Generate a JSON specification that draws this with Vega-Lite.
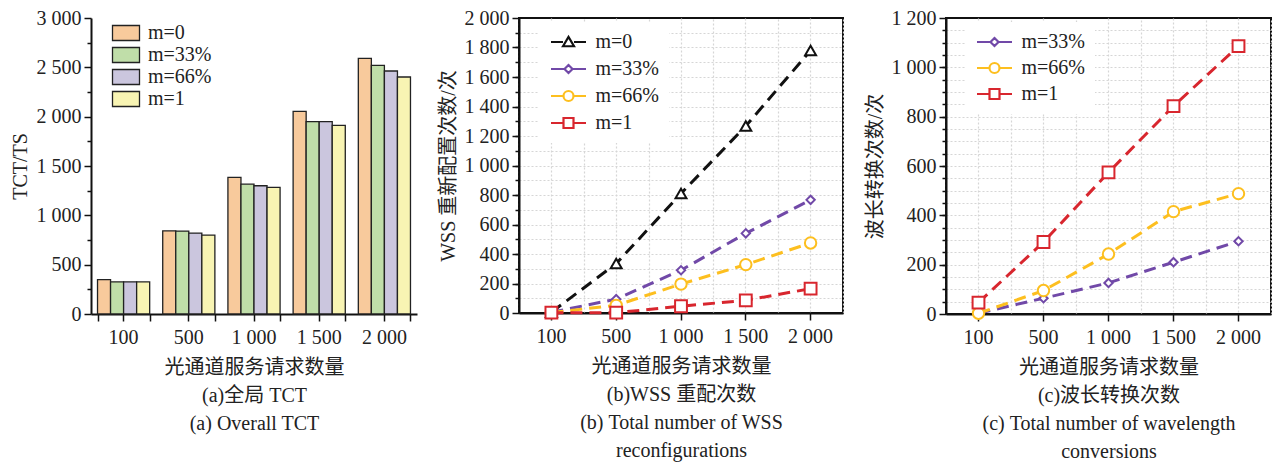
{
  "$schema": "https://vega.github.io/schema/vega-lite/v6.json",
  "background": "white",
  "padding": {"left": 10, "top": 7, "right": 0, "bottom": 0},
  "spacing": 20,
  "resolve": {"scale": {"color": "independent", "fill": "independent"}, "legend": {"color": "independent", "fill": "independent"}},
  "config": {
    "font": "Liberation Serif, Noto Sans CJK SC",
    "view": {"stroke": "#111", "strokeWidth": 2},
    "axis": {
      "labelFont": "Liberation Serif",
      "labelFontSize": 20,
      "labelColor": "#222",
      "titleFont": "Liberation Serif, Noto Sans CJK SC",
      "titleFontSize": 20,
      "titleFontWeight": "normal",
      "titleColor": "#222",
      "domainColor": "#111",
      "domainWidth": 2,
      "tickColor": "#111",
      "tickWidth": 1.5,
      "tickSize": 7,
      "labelPadding": 3,
      "labelAngle": 0
    },
    "legend": {"labelFont": "Liberation Serif", "labelFontSize": 20, "labelColor": "#222"}
  },
  "datasets": {
    "tct": [
      {"n": "100", "m": "m=0", "v": 348}, {"n": "100", "m": "m=33%", "v": 326}, {"n": "100", "m": "m=66%", "v": 326}, {"n": "100", "m": "m=1", "v": 326},
      {"n": "500", "m": "m=0", "v": 843}, {"n": "500", "m": "m=33%", "v": 840}, {"n": "500", "m": "m=66%", "v": 820}, {"n": "500", "m": "m=1", "v": 800},
      {"n": "1 000", "m": "m=0", "v": 1385}, {"n": "1 000", "m": "m=33%", "v": 1316}, {"n": "1 000", "m": "m=66%", "v": 1300}, {"n": "1 000", "m": "m=1", "v": 1284},
      {"n": "1 500", "m": "m=0", "v": 2054}, {"n": "1 500", "m": "m=33%", "v": 1950}, {"n": "1 500", "m": "m=66%", "v": 1950}, {"n": "1 500", "m": "m=1", "v": 1912},
      {"n": "2 000", "m": "m=0", "v": 2590}, {"n": "2 000", "m": "m=33%", "v": 2520}, {"n": "2 000", "m": "m=66%", "v": 2463}, {"n": "2 000", "m": "m=1", "v": 2402}
    ],
    "wss": [
      {"n": "100", "m": "m=0", "v": 5}, {"n": "500", "m": "m=0", "v": 335}, {"n": "1 000", "m": "m=0", "v": 810}, {"n": "1 500", "m": "m=0", "v": 1268}, {"n": "2 000", "m": "m=0", "v": 1780},
      {"n": "100", "m": "m=33%", "v": 5}, {"n": "500", "m": "m=33%", "v": 94}, {"n": "1 000", "m": "m=33%", "v": 290}, {"n": "1 500", "m": "m=33%", "v": 540}, {"n": "2 000", "m": "m=33%", "v": 767},
      {"n": "100", "m": "m=66%", "v": 3}, {"n": "500", "m": "m=66%", "v": 52}, {"n": "1 000", "m": "m=66%", "v": 196}, {"n": "1 500", "m": "m=66%", "v": 328}, {"n": "2 000", "m": "m=66%", "v": 475},
      {"n": "100", "m": "m=1", "v": 2}, {"n": "500", "m": "m=1", "v": 2}, {"n": "1 000", "m": "m=1", "v": 46}, {"n": "1 500", "m": "m=1", "v": 86}, {"n": "2 000", "m": "m=1", "v": 165}
    ],
    "wl": [
      {"n": "100", "m": "m=33%", "v": 3}, {"n": "500", "m": "m=33%", "v": 64}, {"n": "1 000", "m": "m=33%", "v": 126}, {"n": "1 500", "m": "m=33%", "v": 210}, {"n": "2 000", "m": "m=33%", "v": 295},
      {"n": "100", "m": "m=66%", "v": 3}, {"n": "500", "m": "m=66%", "v": 95}, {"n": "1 000", "m": "m=66%", "v": 243}, {"n": "1 500", "m": "m=66%", "v": 415}, {"n": "2 000", "m": "m=66%", "v": 488},
      {"n": "100", "m": "m=1", "v": 46}, {"n": "500", "m": "m=1", "v": 292}, {"n": "1 000", "m": "m=1", "v": 574}, {"n": "1 500", "m": "m=1", "v": 843}, {"n": "2 000", "m": "m=1", "v": 1086}
    ]
  },
  "hconcat": [
    {
      "width": 326,
      "height": 296,
      "view": {"stroke": null},
      "data": {"name": "tct"},
      "layer": [
        {
          "mark": {"type": "bar", "stroke": "#222", "strokeWidth": 1.3},
          "encoding": {
            "x": {"field": "n", "type": "nominal",
              "scale": {"domain": ["100", "500", "1 000", "1 500", "2 000"], "paddingInner": 0.2, "paddingOuter": 0.1},
              "axis": {"tickBand": "center", "title": ["光通道服务请求数量", "(a)全局 TCT", "(a) Overall TCT"], "titleLineHeight": 28, "titlePadding": 10, "labelPadding": 6}},
            "xOffset": {"field": "m", "type": "nominal", "scale": {"domain": ["m=0", "m=33%", "m=66%", "m=1"], "paddingInner": 0, "paddingOuter": 0}},
            "y": {"field": "v", "type": "quantitative", "scale": {"domain": [0, 3000], "nice": false},
              "axis": {"values": [0, 500, 1000, 1500, 2000, 2500, 3000], "labelExpr": "replace(format(datum.value, ','), ',', ' ')", "title": "TCT/TS", "grid": false, "titlePadding": 6}},
            "fill": {"field": "m", "type": "nominal",
              "scale": {"domain": ["m=0", "m=33%", "m=66%", "m=1"], "range": ["#F8CA9C", "#C0DEA9", "#CBC6DE", "#F8F4B3"]},
              "legend": {"orient": "none", "legendX": 25, "legendY": 5, "title": null, "padding": 0,
                "symbolType": "M-1.8,-1H1.8V1H-1.8Z", "symbolSize": 225, "symbolStrokeColor": "#222", "symbolStrokeWidth": 1.3,
                "labelOffset": 12, "rowPadding": 0}}
          }
        },
        {
          "mark": {"type": "bar", "opacity": 0},
          "encoding": {
            "x": {"field": "n", "type": "nominal", "axis": {"tickBand": "extent", "labels": false, "domain": false, "title": null, "orient": "bottom"}},
            "xOffset": {"field": "m", "type": "nominal"},
            "y": {"field": "v", "type": "quantitative", "axis": {"values": [250, 750, 1250, 1750, 2250, 2750], "labels": false, "domain": false, "title": null, "grid": false, "tickSize": 4, "orient": "left"}}
          }
        }
      ],
      "resolve": {"axis": {"x": "independent", "y": "independent"}}
    },
    {
      "width": 324,
      "height": 295,
      "data": {"name": "wss"},
      "layer": [
        {
          "mark": {"type": "line", "strokeWidth": 3, "strokeDash": [12, 7]},
          "encoding": {
            "x": {"field": "n", "type": "nominal",
              "scale": {"domain": ["100", "500", "1 000", "1 500", "2 000"], "paddingInner": 0, "paddingOuter": 0},
              "axis": {"tickBand": "center", "grid": true, "gridColor": "#d6d6d6", "gridDash": [2, 2], "gridWidth": 1.2,
                "title": ["光通道服务请求数量", "(b)WSS 重配次数", "(b) Total number of WSS", "reconfigurations"], "titleLineHeight": 28, "titlePadding": 10, "labelPadding": 6}},
            "y": {"field": "v", "type": "quantitative", "scale": {"domain": [0, 2000], "nice": false},
              "axis": {"values": [0, 200, 400, 600, 800, 1000, 1200, 1400, 1600, 1800, 2000], "labelExpr": "replace(format(datum.value, ','), ',', ' ')",
                "title": "WSS 重新配置次数/次", "grid": false, "titlePadding": 6}},
            "color": {"field": "m", "type": "nominal",
              "scale": {"domain": ["m=0", "m=33%", "m=66%", "m=1"], "range": ["#111111", "#7149A8", "#FDBF1F", "#D8262E"]},
              "legend": {"orient": "none", "legendX": 20, "legendY": 4, "title": null, "padding": 10, "fillColor": "white",
                "symbolSize": 100, "symbolOffset": 9.5, "symbolStrokeWidth": 2.2, "labelOffset": 17, "rowPadding": 7,
                "encode": {"symbols": {"update": {
                  "shape": {"signal": "datum.value === 'm=0' ? 'M-3.5,0H-1.1M1.1,0H3.5M-1.1,0.85L0,-1L1.1,0.85Z' : datum.value === 'm=33%' ? 'M-3.5,0H-0.8M0.8,0H3.5M-0.8,0L0,-0.8L0.8,0L0,0.8Z' : datum.value === 'm=66%' ? 'M-3.5,0H-1M1,0H3.5M-1,0A1,1,0,1,0,1,0A1,1,0,1,0,-1,0Z' : 'M-3.5,0H-1M1,0H3.5M-1,-1H1V1H-1Z'"},
                  "fill": {"value": "white"},
                  "strokeDash": {"value": []}
                }}}}}
          }
        },
        {
          "transform": [{"filter": {"field": "m", "equal": "m=0"}}],
          "mark": {"type": "point", "shape": "triangle-up", "size": 120, "filled": false, "fill": "white", "fillOpacity": 1, "strokeWidth": 2, "opacity": 1},
          "encoding": {
            "x": {"field": "n", "type": "nominal",
              "axis": {"tickBand": "extent", "grid": true, "gridColor": "#d6d6d6", "gridDash": [2, 2], "gridWidth": 1.2, "labels": false, "ticks": false, "domain": false, "title": null, "orient": "top"}},
            "y": {"field": "v", "type": "quantitative",
              "axis": {"values": [100, 200, 300, 400, 500, 600, 700, 800, 900, 1000, 1100, 1200, 1300, 1400, 1500, 1600, 1700, 1800, 1900], "grid": true, "gridColor": "#d6d6d6", "gridDash": [2, 2], "gridWidth": 1.2, "labels": false, "domain": false, "title": null, "tickSize": 4, "orient": "left"}},
            "color": {"field": "m", "type": "nominal", "legend": null}
          }
        },
        {
          "transform": [{"filter": {"field": "m", "equal": "m=33%"}}],
          "mark": {"type": "point", "shape": "diamond", "size": 70, "filled": false, "fill": "white", "fillOpacity": 1, "strokeWidth": 2, "opacity": 1},
          "encoding": {
            "x": {"field": "n", "type": "nominal", "axis": null},
            "y": {"field": "v", "type": "quantitative", "axis": null},
            "color": {"field": "m", "type": "nominal", "legend": null}
          }
        },
        {
          "transform": [{"filter": {"field": "m", "equal": "m=66%"}}],
          "mark": {"type": "point", "shape": "circle", "size": 130, "filled": false, "fill": "white", "fillOpacity": 1, "strokeWidth": 2, "opacity": 1},
          "encoding": {
            "x": {"field": "n", "type": "nominal", "axis": null},
            "y": {"field": "v", "type": "quantitative", "axis": null},
            "color": {"field": "m", "type": "nominal", "legend": null}
          }
        },
        {
          "transform": [{"filter": {"field": "m", "equal": "m=1"}}],
          "mark": {"type": "point", "shape": "square", "size": 140, "filled": false, "fill": "white", "fillOpacity": 1, "strokeWidth": 2, "opacity": 1},
          "encoding": {
            "x": {"field": "n", "type": "nominal", "axis": null},
            "y": {"field": "v", "type": "quantitative", "axis": null},
            "color": {"field": "m", "type": "nominal", "legend": null}
          }
        }
      ],
      "resolve": {"axis": {"x": "independent", "y": "independent"}}
    },
    {
      "width": 325,
      "height": 296,
      "data": {"name": "wl"},
      "layer": [
        {
          "mark": {"type": "line", "strokeWidth": 3, "strokeDash": [12, 7]},
          "encoding": {
            "x": {"field": "n", "type": "nominal",
              "scale": {"domain": ["100", "500", "1 000", "1 500", "2 000"], "paddingInner": 0, "paddingOuter": 0},
              "axis": {"tickBand": "center", "grid": true, "gridColor": "#d6d6d6", "gridDash": [2, 2], "gridWidth": 1.2,
                "title": ["光通道服务请求数量", "(c)波长转换次数", "(c) Total number of wavelength", "conversions"], "titleLineHeight": 28, "titlePadding": 10, "labelPadding": 6}},
            "y": {"field": "v", "type": "quantitative", "scale": {"domain": [0, 1200], "nice": false},
              "axis": {"values": [0, 200, 400, 600, 800, 1000, 1200], "labelExpr": "replace(format(datum.value, ','), ',', ' ')",
                "title": "波长转换次数/次", "grid": false, "titlePadding": 6}},
            "color": {"field": "m", "type": "nominal",
              "scale": {"domain": ["m=33%", "m=66%", "m=1"], "range": ["#7149A8", "#FDBF1F", "#D8262E"]},
              "legend": {"orient": "none", "legendX": 19, "legendY": 4, "title": null, "padding": 10, "fillColor": "white",
                "symbolSize": 100, "symbolOffset": 9.5, "symbolStrokeWidth": 2.2, "labelOffset": 17, "rowPadding": 6,
                "encode": {"symbols": {"update": {
                  "shape": {"signal": "datum.value === 'm=33%' ? 'M-3.5,0H-0.8M0.8,0H3.5M-0.8,0L0,-0.8L0.8,0L0,0.8Z' : datum.value === 'm=66%' ? 'M-3.5,0H-1M1,0H3.5M-1,0A1,1,0,1,0,1,0A1,1,0,1,0,-1,0Z' : 'M-3.5,0H-1M1,0H3.5M-1,-1H1V1H-1Z'"},
                  "fill": {"value": "white"},
                  "strokeDash": {"value": []}
                }}}}}
          }
        },
        {
          "transform": [{"filter": {"field": "m", "equal": "m=33%"}}],
          "mark": {"type": "point", "shape": "diamond", "size": 70, "filled": false, "fill": "white", "fillOpacity": 1, "strokeWidth": 2, "opacity": 1},
          "encoding": {
            "x": {"field": "n", "type": "nominal",
              "axis": {"tickBand": "extent", "grid": true, "gridColor": "#d6d6d6", "gridDash": [2, 2], "gridWidth": 1.2, "labels": false, "ticks": false, "domain": false, "title": null, "orient": "top"}},
            "y": {"field": "v", "type": "quantitative",
              "axis": {"values": [50, 100, 150, 200, 250, 300, 350, 400, 450, 500, 550, 600, 650, 700, 750, 800, 850, 900, 950, 1000, 1050, 1100, 1150], "gridColor": "#d6d6d6", "gridDash": [2, 2], "gridWidth": 1.2, "grid": true, "labels": false, "domain": false, "title": null, "tickSize": 4, "orient": "left"}},
            "color": {"field": "m", "type": "nominal", "legend": null}
          }
        },
        {
          "transform": [{"filter": {"field": "m", "equal": "m=66%"}}],
          "mark": {"type": "point", "shape": "circle", "size": 130, "filled": false, "fill": "white", "fillOpacity": 1, "strokeWidth": 2, "opacity": 1},
          "encoding": {
            "x": {"field": "n", "type": "nominal", "axis": null},
            "y": {"field": "v", "type": "quantitative", "axis": null},
            "color": {"field": "m", "type": "nominal", "legend": null}
          }
        },
        {
          "transform": [{"filter": {"field": "m", "equal": "m=1"}}],
          "mark": {"type": "point", "shape": "square", "size": 140, "filled": false, "fill": "white", "fillOpacity": 1, "strokeWidth": 2, "opacity": 1},
          "encoding": {
            "x": {"field": "n", "type": "nominal", "axis": null},
            "y": {"field": "v", "type": "quantitative", "axis": null},
            "color": {"field": "m", "type": "nominal", "legend": null}
          }
        }
      ],
      "resolve": {"axis": {"x": "independent", "y": "independent"}}
    }
  ]
}
